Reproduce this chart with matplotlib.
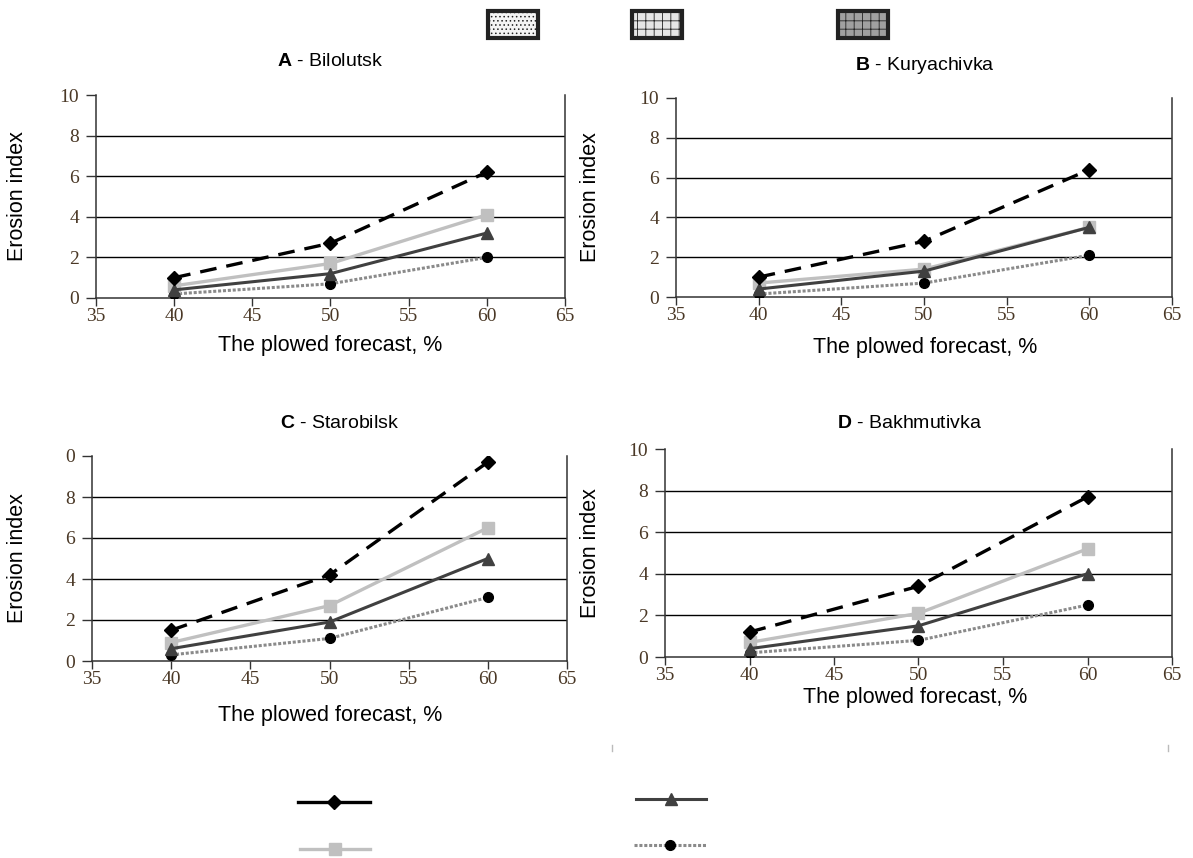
import matplotlib
matplotlib.use('Agg')
import matplotlib.pyplot as plt
from matplotlib.patches import Rectangle
from matplotlib.lines import Line2D

plt.rcParams['font.family'] = ['Liberation Sans', 'DejaVu Sans']
plt.rcParams['mathtext.fontset'] = 'custom'
plt.rcParams['mathtext.bf'] = 'Liberation Sans:bold'
plt.rcParams['hatch.linewidth'] = 0.6

# data
x_vals = [40, 50, 60]
panels = ['A', 'B', 'C', 'D']
places = ['Bilolutsk', 'Kuryachivka', 'Starobilsk', 'Bakhmutivka']
diamond = {'A': [1.0, 2.7, 6.2], 'B': [1.0, 2.8, 6.4], 'C': [1.5, 4.2, 9.7], 'D': [1.2, 3.4, 7.7]}
square = {'A': [0.6, 1.7, 4.1], 'B': [0.7, 1.4, 3.5], 'C': [0.9, 2.7, 6.5], 'D': [0.7, 2.1, 5.2]}
triangle = {'A': [0.4, 1.2, 3.2], 'B': [0.4, 1.3, 3.5], 'C': [0.6, 1.9, 5.0], 'D': [0.4, 1.5, 4.0]}
circle = {'A': [0.2, 0.7, 2.0], 'B': [0.15, 0.7, 2.1], 'C': [0.3, 1.1, 3.1], 'D': [0.2, 0.8, 2.5]}
x_ticks = [35, 40, 45, 50, 55, 60, 65]
y_ticks = [0, 2, 4, 6, 8, 10]
grid_y = [2, 4, 6, 8]
y_ticklabels = {'A': ['0', '2', '4', '6', '8', '10'], 'B': ['0', '2', '4', '6', '8', '10'],
                'C': ['0', '2', '4', '6', '8', '0'], 'D': ['0', '2', '4', '6', '8', '10']}

fig = plt.figure(figsize=(11.93, 8.58), dpi=100)
W, H = 1193, 858

# axes boxes in pixels: left, right, top, bottom
boxes = {'A': (96, 565, 95, 298), 'B': (676, 1172, 98, 297),
         'C': (92, 567, 456, 661), 'D': (665, 1172, 449, 657)}
title_pos = {'A': (330, 62), 'B': (925, 66), 'C': (340, 423), 'D': (910, 423)}
xlabel_pos = {'A': (330, 345), 'B': (925, 347), 'C': (330, 715), 'D': (915, 698)}
ylabel_x = {'A': 18, 'B': 590, 'C': 18, 'D': 590}

tick_color = '#4a3826'

for p, place in zip(panels, places):
    l, r, t, b = boxes[p]
    ax = fig.add_axes([l / W, 1 - b / H, (r - l) / W, (b - t) / H])
    ax.plot(x_vals, circle[p], color='#8a8a8a', lw=2.2, ls=(0, (1, 0.6)),
            marker='o', ms=7, mfc='black', mec='black', zorder=3)
    ax.plot(x_vals, triangle[p], color='#404040', lw=2.2,
            marker='^', ms=9, mfc='#404040', mec='#404040', zorder=4)
    ax.plot(x_vals, square[p], color='#c0c0c0', lw=2.4,
            marker='s', ms=8, mfc='#c0c0c0', mec='#c0c0c0', zorder=3)
    ax.plot(x_vals, diamond[p], color='black', lw=2.4, ls=(0, (5, 3)),
            marker='D', ms=7, mfc='black', mec='black', zorder=5)
    for gy in grid_y:
        ax.axhline(gy, color='black', lw=1, zorder=1)
    ax.set_xlim(35, 65)
    ax.set_ylim(0, 10)
    ax.set_xticks(x_ticks)
    ax.set_yticks(y_ticks)
    ax.set_yticklabels(y_ticklabels[p])
    for lab in ax.get_xticklabels() + ax.get_yticklabels():
        lab.set_fontfamily('Liberation Serif')
        lab.set_fontsize(14)
        lab.set_color(tick_color)
    ax.tick_params(axis='x', direction='out', length=6, width=1, color='#333333', pad=1)
    ax.tick_params(axis='y', direction='out', length=7, width=1, color='#333333', pad=5)
    ax.spines['top'].set_visible(False)
    for s in ['left', 'right', 'bottom']:
        ax.spines[s].set_linewidth(1.1)
        ax.spines[s].set_color('#333333')
    tx, ty = title_pos[p]
    fig.text(tx / W, 1 - ty / H, r'$\mathbf{' + p + '}$ - ' + place, ha='center', va='center', fontsize=14)
    lx, ly = xlabel_pos[p]
    fig.text(lx / W, 1 - ly / H, 'The plowed forecast, %', ha='center', va='center', fontsize=15.5)
    fig.text(ylabel_x[p] / W, 1 - ((t + b) / 2) / H, 'Erosion index', rotation=90,
             ha='center', va='center', fontsize=15.5)

# top legend swatches
swatches = [(488, '#f4f4f4', '....'), (632, '#e6e6e6', '++'), (838, '#a0a0a0', '++')]
for x0, fc, hatch in swatches:
    rect = Rectangle((x0 / W, 1 - 38 / H), 50 / W, 27 / H, transform=fig.transFigure,
                     facecolor=fc, edgecolor='#222222', lw=3, hatch=hatch)
    fig.patches.append(rect)

# bottom legend samples
legend_items = [
    (298, 370, 802, dict(color='black', lw=2.4, marker='D', ms=7, mfc='black', mec='black')),
    (636, 706, 799, dict(color='#404040', lw=2.2, marker='^', ms=9, mfc='#404040', mec='#404040')),
    (300, 370, 849, dict(color='#c0c0c0', lw=2.4, marker='s', ms=8, mfc='#c0c0c0', mec='#c0c0c0')),
    (634, 706, 845, dict(color='#8a8a8a', lw=2.2, ls=(0, (1, 0.6)), marker='o', ms=7, mfc='black', mec='black')),
]
for x0, x1, y, st in legend_items:
    ln = Line2D([x0 / W, x1 / W], [1 - y / H, 1 - y / H], transform=fig.transFigure,
                color=st['color'], lw=st['lw'], ls=st.get('ls', '-'))
    fig.lines.append(ln)
    mk = Line2D([(x0 + x1) / 2 / W], [1 - y / H], transform=fig.transFigure, ls='none',
                marker=st['marker'], ms=st['ms'], mfc=st['mfc'], mec=st['mec'])
    fig.lines.append(mk)

# small stray marks under panel D
for mx in [612, 1168]:
    fig.lines.append(Line2D([mx / W, mx / W], [1 - 745 / H, 1 - 751 / H],
                            transform=fig.transFigure, color='#bbbbbb', lw=1))

fig.savefig('out.png', dpi=100)
